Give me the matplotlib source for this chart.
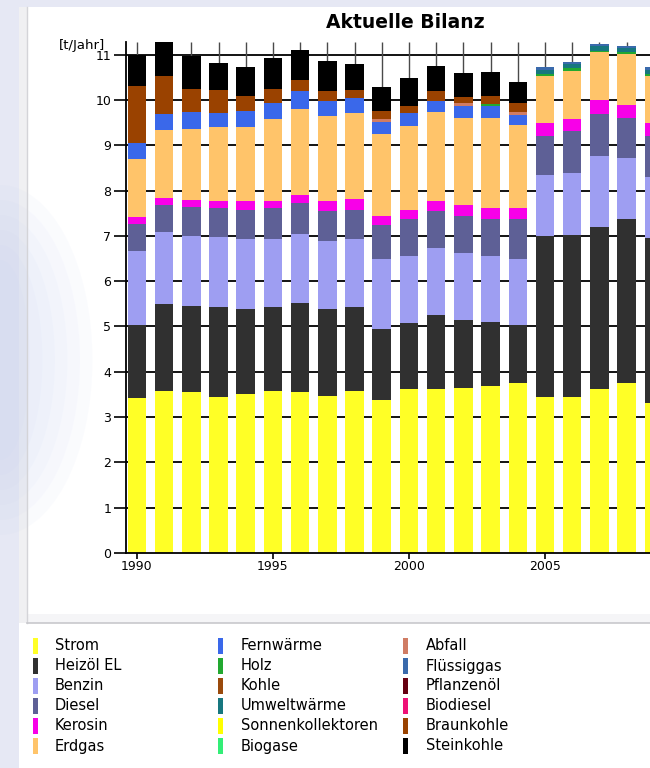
import numpy as np
import matplotlib.pyplot as plt
from matplotlib.patches import Rectangle, Ellipse

# ==========================================
# Data (t/Jahr per energy source)
# ==========================================
years = list(range(1990, 2010))

strom = [3.42, 3.58, 3.55, 3.44, 3.51, 3.58, 3.55, 3.47, 3.58, 3.38,
         3.62, 3.62, 3.64, 3.68, 3.75, 3.44, 3.44, 3.62, 3.75, 3.32]
heizoel = [1.62, 1.92, 1.91, 1.99, 1.88, 1.85, 1.97, 1.92, 1.85, 1.56,
           1.46, 1.64, 1.51, 1.43, 1.29, 3.55, 3.59, 3.58, 3.62, 3.63]
benzin = [1.62, 1.58, 1.54, 1.54, 1.54, 1.50, 1.53, 1.49, 1.50, 1.55,
          1.47, 1.47, 1.47, 1.45, 1.45, 1.36, 1.36, 1.56, 1.35, 1.36]
diesel = [0.61, 0.61, 0.64, 0.65, 0.65, 0.69, 0.68, 0.66, 0.65, 0.76,
          0.82, 0.83, 0.83, 0.81, 0.88, 0.85, 0.92, 0.94, 0.88, 0.90]
kerosin = [0.15, 0.15, 0.16, 0.16, 0.18, 0.16, 0.18, 0.22, 0.24, 0.20,
           0.21, 0.22, 0.24, 0.25, 0.25, 0.29, 0.26, 0.31, 0.30, 0.28]
erdgas = [1.28, 1.49, 1.56, 1.62, 1.64, 1.79, 1.89, 1.88, 1.89, 1.81,
          1.85, 1.95, 1.91, 1.98, 1.83, 1.05, 1.08, 1.04, 1.12, 1.05]
fernwaerme = [0.35, 0.35, 0.37, 0.31, 0.36, 0.37, 0.39, 0.33, 0.33, 0.25,
              0.29, 0.24, 0.26, 0.27, 0.22, 0, 0, 0, 0, 0]
holz = [0, 0, 0, 0, 0, 0, 0, 0, 0, 0,
        0, 0, 0, 0.05, 0, 0.04, 0.05, 0.04, 0.04, 0.04]
kohle = [0] * 20
umweltwaerme = [0, 0, 0, 0, 0, 0, 0, 0, 0, 0,
                0, 0, 0, 0, 0, 0.09, 0.09, 0.10, 0.09, 0.09]
sonnenkollektoren = [0] * 20
biogase = [0] * 20
abfall = [0, 0, 0, 0, 0, 0, 0, 0, 0, 0.07,
          0, 0, 0.07, 0, 0.07, 0, 0, 0, 0, 0]
fluessiggas = [0, 0, 0, 0, 0, 0, 0, 0, 0, 0,
               0, 0, 0, 0, 0, 0.05, 0.05, 0.05, 0.05, 0.05]
pflanzenoel = [0] * 20
biodiesel = [0] * 20
braunkohle = [1.26, 0.85, 0.52, 0.51, 0.32, 0.31, 0.26, 0.22, 0.18, 0.17,
              0.15, 0.22, 0.13, 0.17, 0.20, 0, 0, 0, 0, 0]
steinkohle = [0.68, 0.75, 0.73, 0.60, 0.64, 0.68, 0.65, 0.68, 0.57, 0.54,
              0.61, 0.57, 0.53, 0.52, 0.46, 0, 0, 0, 0, 0]

labels = ['Strom', 'Heizöl EL', 'Benzin', 'Diesel', 'Kerosin', 'Erdgas',
          'Fernwärme', 'Holz', 'Kohle', 'Umweltwärme', 'Sonnenkollektoren', 'Biogase',
          'Abfall', 'Flüssiggas', 'Pflanzenöl', 'Biodiesel', 'Braunkohle', 'Steinkohle']
series = [strom, heizoel, benzin, diesel, kerosin, erdgas,
          fernwaerme, holz, kohle, umweltwaerme, sonnenkollektoren, biogase,
          abfall, fluessiggas, pflanzenoel, biodiesel, braunkohle, steinkohle]
colors = ['#ffff26', '#303030', '#9e9ef2', '#5e6096', '#f800e8', '#ffc46a',
          '#3a68ea', '#22a830', '#9a4a0c', '#17777f', '#ffff00', '#33ee77',
          '#d07c64', '#3a6aac', '#660011', '#ee1177', '#9a4200', '#000000']

W, H = 650, 768
fig = plt.figure(figsize=(W / 100, H / 100), dpi=100)
fig.patch.set_facecolor('#e6e8f4')

# background panel, drawn in pixel coordinates
bg = fig.add_axes([0, 0, 1, 1], zorder=0)
bg.set_xlim(0, W)
bg.set_ylim(H, 0)
bg.axis('off')
bg.add_patch(Rectangle((19, 7), W, H, facecolor='white', edgecolor='none'))
bg.add_patch(Rectangle((19, 7), 8, 616, facecolor='#f0f0f2', edgecolor='none'))
bg.plot([27, 27], [7, 623], color='#d4d4d8', lw=1)
bg.add_patch(Rectangle((27, 614), W, 9, facecolor='#f5f5f7', edgecolor='none'))
bg.plot([27, W], [623, 623], color='#c8c8cc', lw=1.2)
# soft bluish glow on the left
for k in range(6):
    bg.add_patch(Ellipse((0, 360), 60 + 25 * k, 200 + 30 * k,
                         facecolor='#c4d0f0', edgecolor='none', alpha=0.07))

# ==========================================
# Stacked bars
# ==========================================
ax = fig.add_axes([126 / W, 215 / H, (W - 126) / W, 511 / H], zorder=1)
ax.patch.set_alpha(0)
ymax = 11.28
ax.set_xlim(1989.6, 2008.86)
ax.set_ylim(0, ymax)

for v in range(1, 12):
    ax.axhline(v, color='black', lw=1.3, zorder=0.5)
ax.vlines(years, 0, ymax, color='#4a4a4a', lw=1, zorder=0.5)

bottom = np.zeros(len(years))
for vals, col in zip(series, colors):
    vals = np.array(vals)
    ax.bar(years, vals, bottom=bottom, width=0.68, color=col, linewidth=0, zorder=2)
    bottom += vals

for side in ['top', 'right']:
    ax.spines[side].set_visible(False)
ax.spines['left'].set_linewidth(1.3)
ax.spines['bottom'].set_linewidth(1.3)
ax.spines['left'].set_zorder(3)
ax.spines['bottom'].set_zorder(3)

ax.set_yticks(range(0, 12))
ax.set_xticks([1990, 1995, 2000, 2005])
ax.tick_params(axis='y', length=8.5, width=1.2, pad=2, labelsize=9)
ax.tick_params(axis='x', length=4, width=1.2, pad=1, labelsize=9)

fig.text(405 / W, 1 - 22 / H, 'Aktuelle Bilanz', ha='center', va='center',
         fontsize=13.5, fontweight='bold')
fig.text(82 / W, 1 - 45 / H, '[t/Jahr]', ha='center', va='center', fontsize=9.5)

# ==========================================
# Legend (3 columns x 6 rows)
# ==========================================
col_swatch = [33, 218, 403]
col_text = [55, 241, 426]
for i, (lab, col) in enumerate(zip(labels, colors)):
    c, r = divmod(i, 6)
    y = 646 + 20 * r
    bg.add_patch(Rectangle((col_swatch[c], y - 8), 5, 16, facecolor=col, edgecolor='none'))
    bg.text(col_text[c], y, lab, ha='left', va='center', fontsize=10.5)

plt.savefig('out.png', dpi=100, facecolor=fig.get_facecolor())
